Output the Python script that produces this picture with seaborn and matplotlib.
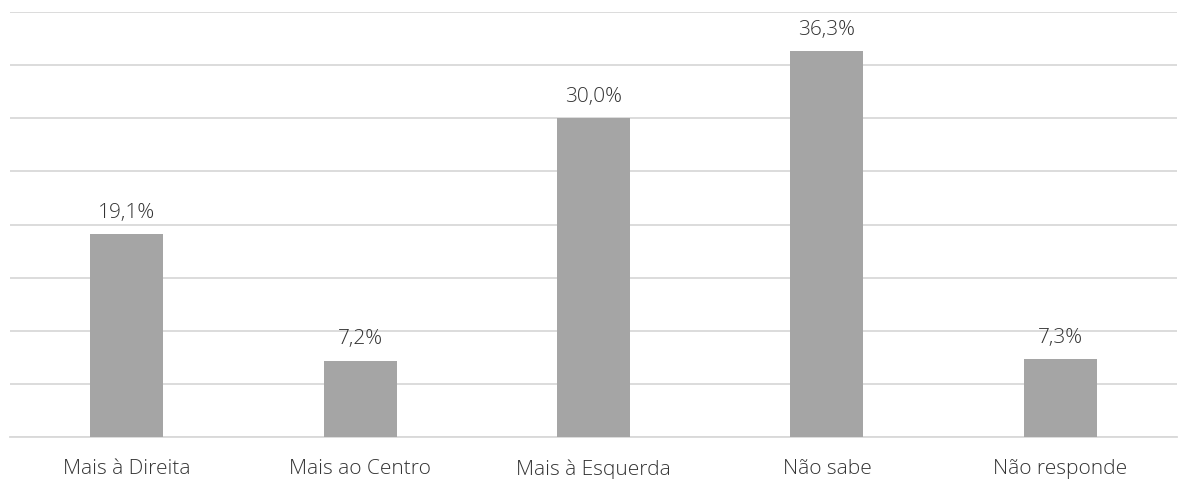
import matplotlib
matplotlib.use("Agg")
import matplotlib.pyplot as plt
import seaborn as sns
import pandas as pd

# Dados
categorias = ["Mais à Direita", "Mais ao Centro", "Mais à Esquerda", "Não sabe", "Não responde"]
valores = [19.1, 7.2, 30.0, 36.3, 7.3]

df = pd.DataFrame({"categoria": categorias, "valor": valores})

sns.set_style("white")
plt.rcParams["font.family"] = ["Open Sans", "DejaVu Sans"]
plt.rcParams["font.weight"] = "light"

fig = plt.figure(figsize=(11.79, 4.79), dpi=100)
ax = fig.add_axes([10 / 1179, 1 - 437 / 479, 1167 / 1179, 425 / 479])

sns.barplot(data=df, x="categoria", y="valor", color="#A5A5A5", width=0.313,
            saturation=1, linewidth=0, ax=ax, zorder=3)

ax.set_ylim(0, 40)
ax.set_yticks(range(0, 41, 5))
ax.yaxis.grid(True, color="#D9D9D9", linewidth=1.3, zorder=0)
ax.set_yticklabels([])
ax.tick_params(axis="y", length=0)
ax.tick_params(axis="x", length=0, pad=16, labelcolor="#333333")
for lbl in ax.get_xticklabels():
    lbl.set_fontsize(15)
    lbl.set_fontweight("light")
for s in ["top", "right", "left"]:
    ax.spines[s].set_visible(False)
ax.spines["bottom"].set_color("#D9D9D9")
ax.spines["bottom"].set_linewidth(1.3)
ax.set_xlabel("")
ax.set_ylabel("")

for cont in ax.containers:
    ax.bar_label(cont, labels=[f"{v:.1f}%".replace(".", ",") for v in valores],
                 padding=8, fontsize=15, fontweight="light", color="#333333")

fig.savefig("out.png", dpi=100)
